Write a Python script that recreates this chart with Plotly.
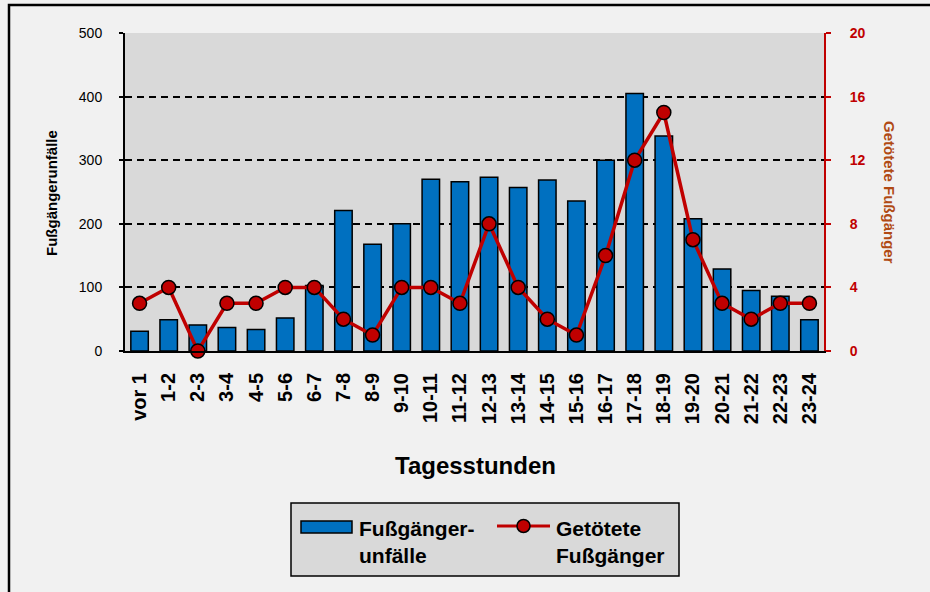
import plotly.graph_objects as go

hours = ["vor 1", "1-2", "2-3", "3-4", "4-5", "5-6", "6-7", "7-8", "8-9", "9-10",
         "10-11", "11-12", "12-13", "13-14", "14-15", "15-16", "16-17", "17-18",
         "18-19", "19-20", "20-21", "21-22", "22-23", "23-24"]
unfaelle = [31, 49, 41, 37, 34, 52, 103, 221, 168, 200, 270, 266, 273, 257, 269, 236,
            300, 405, 338, 208, 129, 95, 86, 49]
getoetete = [3, 4, 0, 3, 3, 4, 4, 2, 1, 4, 4, 3, 8, 4, 2, 1, 6, 12, 15, 7, 3, 2, 3, 3]

left_ticks = [0, 100, 200, 300, 400, 500]
right_ticks = [0, 4, 8, 12, 16, 20]

FONT = "Arial, 'Liberation Sans', sans-serif"
BLUE = "#0070c0"
RED = "#c00000"
BG = "#f1f1f1"

L, R, T, B = 125, 106, 33, 241
W, H = 930, 592
PW, PH = W - L - R, H - T - B


def px(x):
    return (x - L) / PW


def py(y):
    return (H - B - y) / PH


fig = go.Figure()
fig.add_trace(go.Bar(
    x=hours, y=unfaelle, name="Fußgängerunfälle",
    marker=dict(color=BLUE, line=dict(color="black", width=1.5)),
    yaxis="y", xaxis="x",
))
fig.add_trace(go.Scatter(
    x=hours, y=getoetete, name="Getötete Fußgänger", mode="lines+markers",
    line=dict(color=RED, width=3.5),
    marker=dict(size=14, color=RED, line=dict(color="black", width=1.5)),
    yaxis="y2", xaxis="x", cliponaxis=False,
))

shapes = [
    # outer frame
    dict(type="rect", xref="paper", yref="paper", x0=px(9), x1=px(945), y0=py(610), y1=py(5),
         line=dict(color="black", width=2.5)),
    # legend box
    dict(type="rect", xref="paper", yref="paper", x0=px(291), x1=px(679), y0=py(576), y1=py(503),
         fillcolor="#d9d9d9", line=dict(color="black", width=1.5)),
    dict(type="rect", xref="paper", yref="paper", x0=px(301), x1=px(352), y0=py(533), y1=py(521),
         fillcolor=BLUE, line=dict(color="black", width=1.5)),
    dict(type="line", xref="paper", yref="paper", x0=px(497), x1=px(550), y0=py(526), y1=py(526),
         line=dict(color=RED, width=3)),
    dict(type="circle", xref="paper", yref="paper", xsizemode="pixel", ysizemode="pixel",
         xanchor=px(523.5), yanchor=py(526), x0=-6.5, x1=6.5, y0=-6.5, y1=6.5,
         fillcolor=RED, line=dict(color="black", width=1.5)),
]

annotations = [
    dict(text="Fußgängerunfälle", xref="paper", yref="paper", x=px(51), y=py(193),
         xanchor="center", yanchor="middle", textangle=-90, showarrow=False,
         font=dict(family=FONT, size=15, color="black", weight="bold")),
    dict(text="Getötete Fußgänger", xref="paper", yref="paper", x=px(890), y=py(193),
         xanchor="center", yanchor="middle", textangle=90, showarrow=False,
         font=dict(family=FONT, size=15, color="#b04a14", weight="bold")),
    dict(text="Tagesstunden", xref="paper", yref="paper", x=px(475), y=py(465),
         xanchor="center", yanchor="middle", showarrow=False,
         font=dict(family=FONT, size=24, color="black", weight="bold")),
    dict(text="Fußgänger-<br>unfälle", xref="paper", yref="paper", x=px(357), y=py(515),
         xanchor="left", yanchor="top", align="left", showarrow=False,
         font=dict(family=FONT, size=21, color="black", weight="bold")),
    dict(text="Getötete<br>Fußgänger", xref="paper", yref="paper", x=px(554), y=py(515),
         xanchor="left", yanchor="top", align="left", showarrow=False,
         font=dict(family=FONT, size=21, color="black", weight="bold")),
]

fig.update_layout(
    width=W, height=H, autosize=False,
    margin=dict(l=L, r=R, t=T, b=B, pad=0),
    paper_bgcolor=BG, plot_bgcolor="#d9d9d9",
    showlegend=False, bargap=0.4,
    font=dict(family=FONT, color="black"),
    xaxis=dict(
        type="category", range=[-0.5, len(hours) - 0.5],
        showgrid=False, zeroline=False,
        showline=True, linecolor="black", linewidth=2,
        ticks="", tickangle=-90, ticklabelstandoff=12,
        tickfont=dict(family=FONT, size=20, color="black", weight="bold"),
    ),
    xaxis2=dict(
        overlaying="x", anchor="y", side="bottom", type="linear",
        range=[-0.5, len(hours) - 0.5],
        tickvals=[i - 0.5 for i in range(0, len(hours) + 1, 2)],
        ticks="outside", ticklen=5, tickwidth=1.5, tickcolor="black",
        showticklabels=False, showgrid=False, zeroline=False, showline=False,
    ),
    yaxis=dict(
        range=[0, 500], tickvals=left_ticks, showgrid=True, gridcolor="black",
        gridwidth=1.5, griddash="7px,5px", zeroline=False,
        showline=True, linecolor="black", linewidth=2,
        ticks="outside", ticklen=4, tickwidth=1.5, tickcolor="black",
        ticklabelstandoff=14,
        tickfont=dict(family=FONT, size=14, color="black"),
    ),
    yaxis2=dict(
        range=[0, 20], tickvals=right_ticks, overlaying="y", side="right", anchor="x",
        showgrid=False, zeroline=False,
        showline=True, linecolor=RED, linewidth=2,
        ticks="outside", ticklen=5, tickwidth=1.5, tickcolor=RED,
        ticklabelstandoff=16,
        tickfont=dict(family=FONT, size=14, color=RED, weight="bold"),
    ),
    shapes=shapes, annotations=annotations,
)

fig.write_html(
    "out.html",
    config={"displayModeBar": False},
    post_script="document.body.style.margin='0';document.body.style.background='%s';" % BG,
)
